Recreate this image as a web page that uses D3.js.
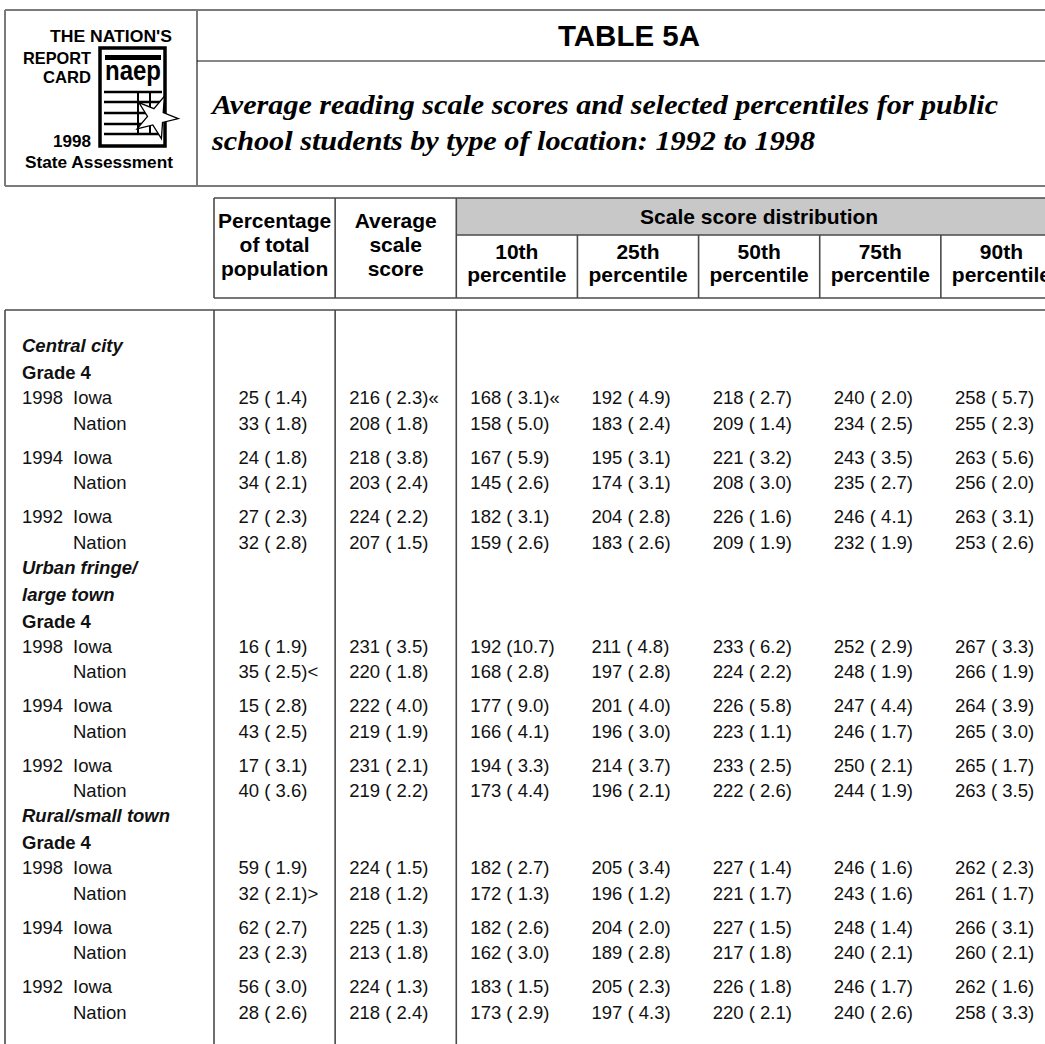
<!DOCTYPE html>
<html>
<head>
<meta charset="utf-8">
<script src="https://cdn.jsdelivr.net/npm/d3@7"></script>
<style>
  html, body { margin: 0; padding: 0; background: #fff; }
  text { white-space: pre; }
</style>
</head>
<body>
<div class="chart-container"></div>
<script>
// table data, rows go location -> year -> jurisdiction
const locations = [["Central city"], ["Urban fringe/", "large town"], ["Rural/small town"]];
const gradeLabel = "Grade 4";
const years = ["1998", "1994", "1992"];
const jurisdictions = ["Iowa", "Nation"];

const columnLabels = [
  ["Percentage", "of total", "population"],
  ["Average", "scale", "score"],
  ["10th", "percentile"],
  ["25th", "percentile"],
  ["50th", "percentile"],
  ["75th", "percentile"],
  ["90th", "percentile"]
];
const spanLabel = "Scale score distribution";

const pctPop   = [25, 33, 24, 34, 27, 32,  16, 35, 15, 43, 17, 40,  59, 32, 62, 23, 56, 28];
const pctPopSE = [1.4, 1.8, 1.8, 2.1, 2.3, 2.8,  1.9, 2.5, 2.8, 2.5, 3.1, 3.6,  1.9, 2.1, 2.7, 2.3, 3.0, 2.6];
const avgScore = [216, 208, 218, 203, 224, 207,  231, 220, 222, 219, 231, 219,  224, 218, 225, 213, 224, 218];
const avgSE    = [2.3, 1.8, 3.8, 2.4, 2.2, 1.5,  3.5, 1.8, 4.0, 1.9, 2.1, 2.2,  1.5, 1.2, 1.3, 1.8, 1.3, 2.4];
const p10      = [168, 158, 167, 145, 182, 159,  192, 168, 177, 166, 194, 173,  182, 172, 182, 162, 183, 173];
const p10SE    = [3.1, 5.0, 5.9, 2.6, 3.1, 2.6,  10.7, 2.8, 9.0, 4.1, 3.3, 4.4,  2.7, 1.3, 2.6, 3.0, 1.5, 2.9];
const p25      = [192, 183, 195, 174, 204, 183,  211, 197, 201, 196, 214, 196,  205, 196, 204, 189, 205, 197];
const p25SE    = [4.9, 2.4, 3.1, 3.1, 2.8, 2.6,  4.8, 2.8, 4.0, 3.0, 3.7, 2.1,  3.4, 1.2, 2.0, 2.8, 2.3, 4.3];
const p50      = [218, 209, 221, 208, 226, 209,  233, 224, 226, 223, 233, 222,  227, 221, 227, 217, 226, 220];
const p50SE    = [2.7, 1.4, 3.2, 3.0, 1.6, 1.9,  6.2, 2.2, 5.8, 1.1, 2.5, 2.6,  1.4, 1.7, 1.5, 1.8, 1.8, 2.1];
const p75      = [240, 234, 243, 235, 246, 232,  252, 248, 247, 246, 250, 244,  246, 243, 248, 240, 246, 240];
const p75SE    = [2.0, 2.5, 3.5, 2.7, 4.1, 1.9,  2.9, 1.9, 4.4, 1.7, 2.1, 1.9,  1.6, 1.6, 1.4, 2.1, 1.7, 2.6];
const p90      = [258, 255, 263, 256, 263, 253,  267, 266, 264, 265, 265, 263,  262, 261, 266, 260, 262, 258];
const p90SE    = [5.7, 2.3, 5.6, 2.0, 3.1, 2.6,  3.3, 1.9, 3.9, 3.0, 1.7, 3.5,  2.3, 1.7, 3.1, 2.1, 1.6, 3.3];

// significance markers: [row, column, symbol]
const markers = [[0, 1, "«"], [0, 2, "«"], [7, 0, "<"], [13, 0, ">"]];

const logoLines = ["THE NATION'S", "REPORT", "CARD", "1998", "State Assessment"];
const tableTitle = "TABLE 5A";
const subtitle = ["Average reading scale scores and selected percentiles for public",
                  "school students by type of location: 1992 to 1998"];

let w = 1045;
let h = 1044;
let sans = "'Liberation Sans', Arial, Helvetica, sans-serif";
let serif = "'Liberation Serif', 'Times New Roman', serif";
let lineCol = "#4a4a4a";
let topCol = "#7a7a7a";

let svg = d3.select(".chart-container").append("svg")
  .attr("width", w)
  .attr("height", h)
  .attr("viewBox", `0 0 ${w} ${h}`);

// ---------- page header ----------
let head = svg.append("g");
head.append("line").attr("x1", 5).attr("x2", w).attr("y1", 10).attr("y2", 10)
   .attr("stroke", topCol).attr("stroke-width", 2);
head.append("line").attr("x1", 5).attr("x2", w).attr("y1", 186).attr("y2", 186)
   .attr("stroke", topCol).attr("stroke-width", 2);
head.append("line").attr("x1", 5).attr("x2", 5).attr("y1", 10).attr("y2", 186)
   .attr("stroke", topCol).attr("stroke-width", 2);
head.append("line").attr("x1", 197).attr("x2", 197).attr("y1", 10).attr("y2", 186)
   .attr("stroke", topCol).attr("stroke-width", 2);
head.append("line").attr("x1", 197).attr("x2", w).attr("y1", 61).attr("y2", 61)
   .attr("stroke", "#111").attr("stroke-width", 1.2);

head.append("text")
   .attr("x", 629).attr("y", 46)
   .attr("text-anchor", "middle")
   .attr("font-family", sans).attr("font-weight", "bold").attr("font-size", 29)
   .attr("textLength", 142).attr("lengthAdjust", "spacingAndGlyphs")
   .text(tableTitle);

let subLens = [786, 603];
head.selectAll(".sub").data(subtitle).enter().append("text")
   .attr("class", "sub")
   .attr("x", 212)
   .attr("y", (d, i) => 114 + i * 36)
   .attr("font-family", serif).attr("font-weight", "bold").attr("font-style", "italic")
   .attr("font-size", 27)
   .attr("textLength", (d, i) => subLens[i])
   .attr("lengthAdjust", "spacingAndGlyphs")
   .text(d => d);

// logo
let logo = svg.append("g");
let logoPos = [
  { x: 172, y: 42, len: 122 },
  { x: 91, y: 64, len: 68 },
  { x: 91, y: 83, len: 48 },
  { x: 91, y: 147, len: 38 },
  { x: 173, y: 168, len: 148 }
];
logo.selectAll("text.logo").data(logoLines).enter().append("text")
  .attr("class", "logo")
  .attr("x", (d, i) => logoPos[i].x - logoPos[i].len)
  .attr("y", (d, i) => logoPos[i].y)
  .attr("font-family", sans).attr("font-weight", "bold").attr("font-size", 16.5)
  .attr("textLength", (d, i) => logoPos[i].len)
  .attr("lengthAdjust", "spacingAndGlyphs")
  .text(d => d);

logo.append("rect").attr("x", 100).attr("y", 48).attr("width", 65).attr("height", 98)
  .attr("fill", "#fff").attr("stroke", "#000").attr("stroke-width", 3.5);
logo.append("text").attr("x", 105).attr("y", 80)
  .attr("font-family", sans).attr("font-weight", "900").attr("font-size", 28)
  .attr("textLength", 56).attr("lengthAdjust", "spacingAndGlyphs")
  .text("naep");
logo.append("rect").attr("x", 105).attr("y", 55).attr("width", 56).attr("height", 5).attr("fill", "#000");
[92, 102, 113, 124, 134].forEach(y => {
  logo.append("line").attr("x1", 104).attr("x2", 162).attr("y1", y).attr("y2", y)
    .attr("stroke", "#000").attr("stroke-width", 2.6);
});
[138, 150].forEach(x => {
  logo.append("line").attr("x1", x).attr("x2", x).attr("y1", 92).attr("y2", 134)
    .attr("stroke", "#000").attr("stroke-width", 2);
});
logo.append("path")
  .attr("d", d3.symbol(d3.symbolStar, 560)())
  .attr("transform", "translate(156,117) rotate(22)")
  .attr("fill", "#fff").attr("stroke", "#000").attr("stroke-width", 1.3);

// ---------- table ----------
let colKeys = columnLabels.map((d, i) => i);
let xScale = d3.scaleBand().domain(colKeys).range([214, 1062]);
let bw = xScale.bandwidth();
let cx = i => xScale(i) + bw / 2;

let headTop = 198, spanBottom = 235, headBottom = 298, bodyTop = 310;
let tbl = svg.append("g");

// gray spanner over percentile columns
tbl.append("rect")
  .attr("x", xScale(2)).attr("y", headTop)
  .attr("width", xScale(6) + bw - xScale(2)).attr("height", spanBottom - headTop)
  .attr("fill", "#c8c8c8");

let hline = (x1, x2, y) => tbl.append("line").attr("x1", x1).attr("x2", x2).attr("y1", y).attr("y2", y)
  .attr("stroke", lineCol).attr("stroke-width", 1.6);
let vline = (x, y1, y2) => tbl.append("line").attr("x1", x).attr("x2", x).attr("y1", y1).attr("y2", y2)
  .attr("stroke", lineCol).attr("stroke-width", 1.6);

hline(xScale(0), 1062, headTop);
hline(xScale(2), 1062, spanBottom);
hline(xScale(0), 1062, headBottom);
hline(5, 1062, bodyTop);
colKeys.forEach(i => vline(xScale(i), i < 3 ? headTop : spanBottom, headBottom));
vline(1062, headTop, headBottom);
[5, xScale(0), xScale(1), xScale(2)].forEach(x => vline(x, bodyTop, h));

tbl.append("text")
  .attr("x", (xScale(2) + xScale(6) + bw) / 2).attr("y", 217).attr("dy", "0.35em")
  .attr("text-anchor", "middle")
  .attr("font-family", sans).attr("font-weight", "bold").attr("font-size", 21)
  .text(spanLabel);

columnLabels.forEach((lines, i) => {
  let ys = lines.length === 3 ? [221, 245, 269] : [252, 275];
  tbl.selectAll(null).data(lines).enter().append("text")
    .attr("x", cx(i))
    .attr("y", (d, j) => ys[j]).attr("dy", "0.35em")
    .attr("text-anchor", "middle")
    .attr("font-family", sans).attr("font-weight", "bold").attr("font-size", 21)
    .text(d => d);
});

// row layout
let rows = [];
let y = 346;
let rowIndex = 0;
locations.forEach((loc, li) => {
  if (li > 0) y += 25;
  loc.forEach((t, k) => {
    rows.push({ type: "loc", text: t, y: y });
    y += 27;
  });
  rows.push({ type: "grade", text: gradeLabel, y: y });
  y += 25;
  years.forEach((yr, yi) => {
    if (yi > 0) y += 34;
    jurisdictions.forEach((j, ji) => {
      if (ji > 0) y += 25.5;
      rows.push({ type: "data", year: ji === 0 ? yr : "", jur: j, idx: rowIndex++, y: y });
    });
  });
});

let body = tbl.append("g").attr("font-family", sans).attr("font-size", 18.5).attr("fill", "#111");

body.selectAll("text.lbl").data(rows.filter(r => r.type !== "data")).enter().append("text")
  .attr("class", "lbl")
  .attr("x", 22).attr("y", d => d.y).attr("dy", "0.35em")
  .attr("font-weight", "bold")
  .attr("font-style", d => d.type === "loc" ? "italic" : "normal")
  .text(d => d.text);

let dataRows = rows.filter(r => r.type === "data");
body.selectAll("text.yr").data(dataRows).enter().append("text")
  .attr("class", "yr")
  .attr("x", 22).attr("y", d => d.y).attr("dy", "0.35em")
  .text(d => d.year);
body.selectAll("text.jur").data(dataRows).enter().append("text")
  .attr("class", "jur")
  .attr("x", 73).attr("y", d => d.y).attr("dy", "0.35em")
  .text(d => d.jur);

let valueCols = [[pctPop, pctPopSE], [avgScore, avgSE], [p10, p10SE], [p25, p25SE],
                 [p50, p50SE], [p75, p75SE], [p90, p90SE]];
let fmtSE = se => (se < 10 ? " " : "") + se.toFixed(1);
let markOf = (r, c) => { let m = markers.find(d => d[0] === r && d[1] === c); return m ? m[2] : ""; };

valueCols.forEach((pair, c) => {
  let off = c === 0 ? -36 : -46.5;
  body.selectAll(null).data(dataRows).enter().append("text")
    .attr("x", cx(c) + off)
    .attr("y", d => d.y).attr("dy", "0.35em")
    .text(d => `${pair[0][d.idx]} (${fmtSE(pair[1][d.idx])})${markOf(d.idx, c)}`);
});
</script>
</body>
</html>
